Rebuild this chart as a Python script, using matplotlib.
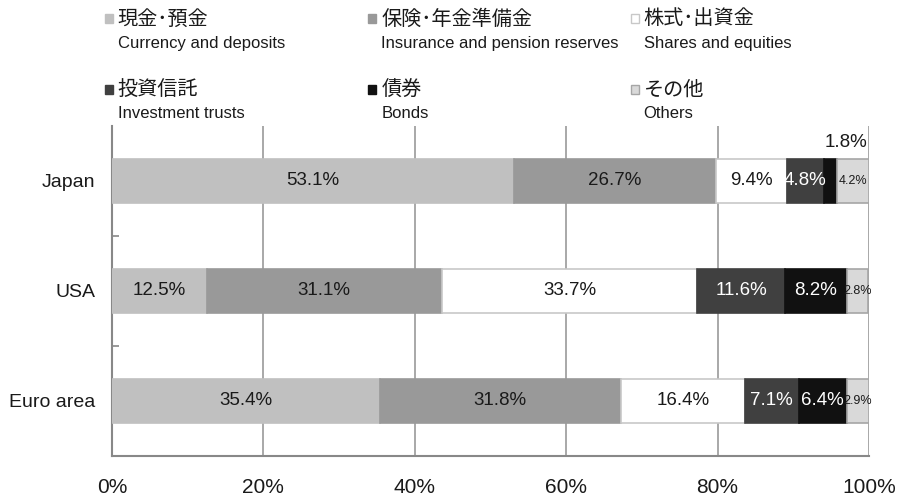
import numpy as np
import matplotlib.pyplot as plt
from matplotlib.patches import Rectangle

plt.rcParams['font.family'] = ['Liberation Sans Narrow', 'Liberation Sans', 'Noto Sans CJK JP', 'DejaVu Sans']

regions = ["Japan", "USA", "Euro area"]
labels_jp = ["現金･預金", "保険･年金準備金", "株式･出資金", "投資信託", "債券", "その他"]
labels_en = ["Currency and deposits", "Insurance and pension reserves", "Shares and equities",
             "Investment trusts", "Bonds", "Others"]
japan = [53.1, 26.7, 9.4, 4.8, 1.8, 4.2]
usa = [12.5, 31.1, 33.7, 11.6, 8.2, 2.8]
euro = [35.4, 31.8, 16.4, 7.1, 6.4, 2.9]
x_ticks = [0, 20, 40, 60, 80, 100]

colors = ["#c0c0c0", "#999999", "#ffffff", "#404040", "#111111", "#d9d9d9"]
edges = ["#c0c0c0", "#999999", "#c8c8c8", "#404040", "#111111", "#a6a6a6"]
text_colors = ["#1a1a1a", "#1a1a1a", "#1a1a1a", "#ffffff", "#ffffff", "#1a1a1a"]

data = np.array([japan, usa, euro])

fig = plt.figure(figsize=(8.99, 4.99), dpi=100)
ax = fig.add_axes([0.1246, 0.0862, 0.842, 0.662])

ypos = np.arange(len(regions))[::-1]
left = np.zeros(len(regions))
for j in range(data.shape[1]):
    vals = data[:, j]
    ax.barh(ypos, vals, left=left, height=0.4, color=colors[j], edgecolor=edges[j],
            linewidth=1.2, zorder=3)
    for i, v in enumerate(vals):
        cx = left[i] + v / 2
        txt = f"{v:.1f}%"
        if j == 5:
            ax.text(cx, ypos[i], txt, ha="center", va="center", fontsize=9,
                    color=text_colors[j], zorder=4)
        elif regions[i] == "Japan" and j == 4:
            ax.text(cx + 2.0, ypos[i] + 0.35, txt, ha="center", va="center",
                    fontsize=13.5, color="#1a1a1a", zorder=4)
        else:
            ax.text(cx, ypos[i], txt, ha="center", va="center", fontsize=13.5,
                    color=text_colors[j], zorder=4)
    left += vals

ax.set_xlim(0, 100)
ax.set_ylim(-0.5, 2.5)
ax.set_xticks(x_ticks)
ax.set_xticklabels([f"{t}%" for t in x_ticks], fontsize=15, color="#1a1a1a")
ax.set_yticks(ypos)
ax.set_yticklabels(regions, fontsize=14, color="#1a1a1a")
ax.set_yticks([0.5, 1.5], minor=True)
ax.tick_params(axis="y", which="major", length=0, pad=12)
ax.tick_params(axis="y", which="minor", length=5, direction="in", color="#888888", width=1.2)
ax.tick_params(axis="x", length=0, pad=16)
ax.grid(axis="x", color="#999999", linewidth=1.2, zorder=0)
for s in ["top", "right"]:
    ax.spines[s].set_visible(False)
for s in ["left", "bottom"]:
    ax.spines[s].set_color("#888888")
    ax.spines[s].set_linewidth(1.5)

# legend drawn by hand: 3 columns x 2 rows
col_x = [0.131, 0.424, 0.716]
row_jp = [0.962, 0.820]
row_en = [0.912, 0.772]
for k in range(6):
    r, c = divmod(k, 3)
    x0 = col_x[c]
    fig.patches.append(Rectangle((x0 - 0.0145, row_jp[r] - 0.008), 0.0092, 0.017,
                                 transform=fig.transFigure, facecolor=colors[k],
                                 edgecolor=edges[k], linewidth=1))
    fig.text(x0, row_jp[r], labels_jp[k], fontsize=14.5, ha="left", va="center", color="#1a1a1a")
    fig.text(x0, row_en[r], labels_en[k], fontsize=12, ha="left", va="center", color="#1a1a1a")

fig.savefig("out.png", dpi=100)
